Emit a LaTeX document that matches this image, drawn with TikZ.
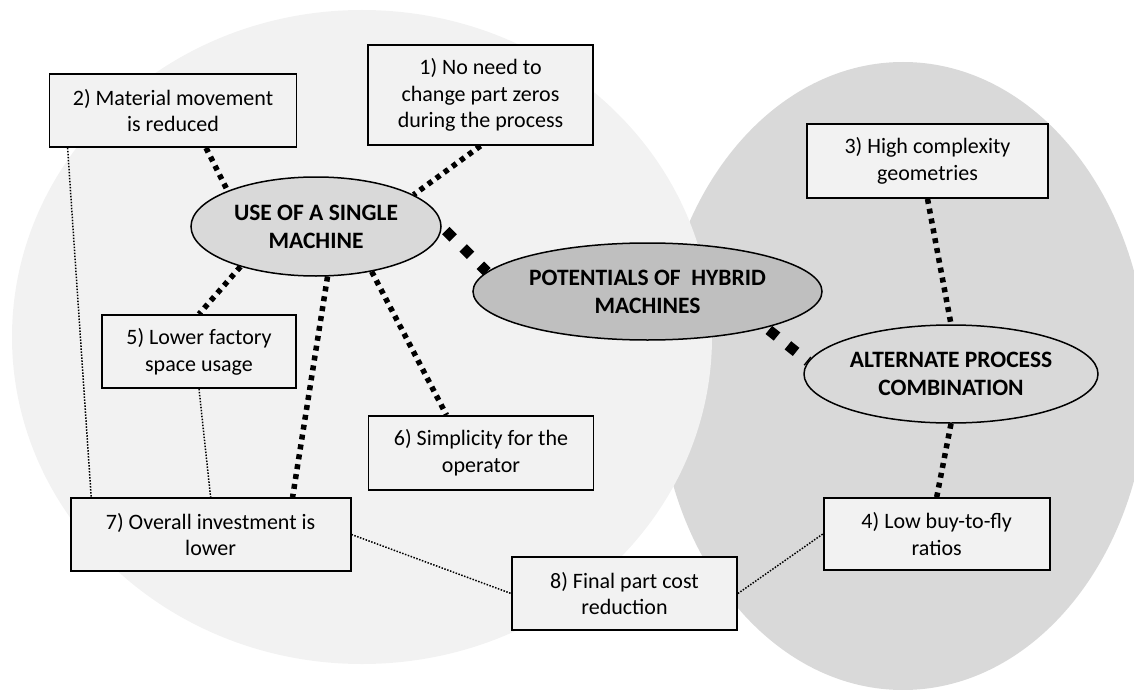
\documentclass[tikz,border=0pt]{standalone}
\usepackage{fontspec}
\setmainfont{Carlito}
\usetikzlibrary{shapes.geometric,calc}
\pgfdeclarelayer{bg}
\pgfdeclarelayer{links}
\pgfsetlayers{bg,links,main}
\definecolor{paleback}{HTML}{F2F2F2}
\definecolor{greyback}{HTML}{D9D9D9}
\definecolor{boxfill}{HTML}{F2F2F2}
\definecolor{hubfill}{HTML}{BFBFBF}
\definecolor{subfill}{HTML}{D9D9D9}

\begin{document}
\begin{tikzpicture}[x=1pt,y=-1pt,
  card/.style={draw=black, line width=1.8pt, fill=boxfill, align=center, inner sep=0pt,
    font=\fontsize{22}{26.8}\selectfont},
  topic/.style={ellipse, draw=black, line width=1.5pt, align=center, inner sep=0pt,
    font=\fontsize{23.5}{28}\selectfont\bfseries},
  strong/.style={line width=5.5pt, dash pattern=on 5pt off 5pt},
  heavy/.style={line width=10.5pt, dash pattern=on 10.5pt off 14pt},
  faint/.style={line width=1.5pt, dash pattern=on 1.5pt off 1.5pt}]

\useasboundingbox (0,0) rectangle (1134,690);

% the two grouping areas
\begin{pgfonlayer}{bg}
  \fill[greyback] (903,376) ellipse [x radius=245, y radius=314];
  \fill[paleback] (362,337) ellipse [x radius=350, y radius=327];
\end{pgfonlayer}

% benefit boxes
\node[card, minimum width=225pt, minimum height=100pt] (b1) at (480.5,95) {1) No need to\\change part zeros\\during the process};
\node[card, minimum width=247pt, minimum height=73pt] (b2) at (173,110.5) {2) Material movement\\is reduced};
\node[card, minimum width=241pt, minimum height=74pt] (b3) at (927.5,161) {3) High complexity\\geometries};
\node[card, minimum width=226pt, minimum height=72pt] (b4) at (936.7,534) {4) Low buy-to-fly\\ratios};
\node[card, minimum width=194pt, minimum height=73pt] (b5) at (199,351.5) {5) Lower factory\\space usage};
\node[card, minimum width=225pt, minimum height=74pt] (b6) at (481,453) {6) Simplicity for the\\operator};
\node[card, minimum width=280pt, minimum height=73pt] (b7) at (210.6,534.5) {7) Overall investment is\\lower};
\node[card, minimum width=225pt, minimum height=73pt] (b8) at (624.5,593.5) {8) Final part cost\\reduction};

% topic ellipses
\node[topic, fill=subfill, minimum width=250pt, minimum height=99pt] (use) at (316,226.5) {USE OF A SINGLE\\MACHINE};
\node[topic, fill=hubfill, minimum width=349pt, minimum height=97pt] (pot) at (647.5,291.5) {POTENTIALS OF\ \ HYBRID\\MACHINES};
\node[topic, fill=subfill, minimum width=294pt, minimum height=98pt] (alt) at (951,374) {ALTERNATE PROCESS\\COMBINATION};

% connectors, kept behind the nodes
\begin{pgfonlayer}{links}
  \draw[heavy, dash phase=18.75pt] (use.east) -- (pot.173.5);
  \draw[heavy, dash phase=21pt] (pot.-17) -- (alt.175);

  \draw[strong] ($(b2.south)+(33,0)$) -- (use.158.6);
  \draw[strong] (b1.south) -- (use.18);
  \draw[strong] (use.208.2) -- (b5.north);
  \draw[strong] (use.283.7) -- ($(b7.north)+(82,0)$);
  \draw[strong] (use.321.3) -- ($(b6.north)+(-34.5,0)$);
  \draw[strong] (b3.south) -- (alt.north);
  \draw[strong] (alt.south) -- (b4.north);

  \draw[faint] ($(b2.south west)+(19,0)$) -- ($(b7.north west)+(21.5,0)$);
  \draw[faint] (b5.south) -- (b7.north);
  \draw[faint] (b7.east) -- (b8.west);
  \draw[faint] (b8.east) -- (b4.west);
\end{pgfonlayer}
\end{tikzpicture}
\end{document}
